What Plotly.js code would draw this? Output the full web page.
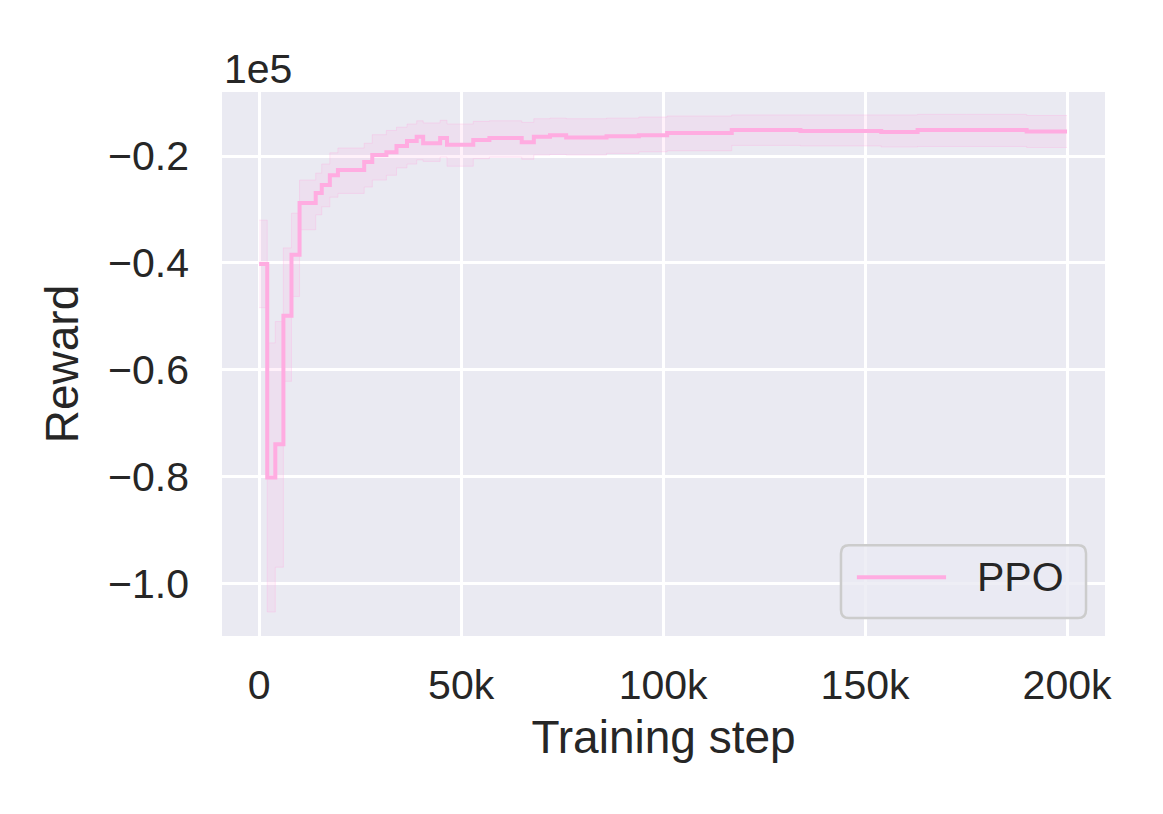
<!DOCTYPE html>
<html>
<head>
<meta charset="utf-8">
<script src="https://cdn.plot.ly/plotly-3.0.1.min.js"></script>
<style>
  html, body { margin: 0; padding: 0; background: white; }
  #plot { width: 1163px; height: 814px; }
</style>
</head>
<body>
<div id="plot"></div>
<script>
// --- Data ---
const steps = [0, 2000, 4000, 6000, 8000, 10000, 14000, 15500, 17500, 19500, 26000, 28000,
  31500, 34000, 36600, 39000, 40600, 44800, 46500, 53000, 57000, 65000, 68000, 72000,
  76000, 86000, 94000, 101000, 117000, 134000, 154000, 163000, 175000, 190000, 200000];

const rewardMean = [-40200, -80200, -74000, -49900, -38500, -28800, -26900, -25400, -23600,
  -22600, -21100, -19800, -19300, -18100, -17200, -16400, -17600, -16600, -17900, -17000,
  -16600, -17400, -16400, -16100, -16500, -16300, -16100, -15700, -15100, -15300, -15500,
  -15100, -15100, -15400, -15400];

const rewardUpper = [-32000, -55000, -51000, -37200, -30700, -24500, -23200, -21500, -19400,
  -18500, -17600, -16000, -15200, -14600, -14000, -13400, -13800, -13300, -14000, -13500,
  -13400, -13700, -13000, -12900, -13000, -12900, -12700, -12500, -12300, -12300, -12300,
  -12200, -12200, -12400, -12400];

const rewardLower = [-48400, -105400, -97000, -62200, -46300, -33800, -31000, -29500, -27700,
  -27000, -25800, -24500, -23600, -22200, -21500, -20700, -21000, -20200, -21900, -20500,
  -20200, -20600, -19800, -19700, -19800, -19500, -19200, -19000, -18000, -18100, -18300,
  -18200, -18200, -18400, -18400];

const xTickVals = [0, 50000, 100000, 150000, 200000];
const xTickText = ["0", "50k", "100k", "150k", "200k"];
const yTickVals = [-100000, -80000, -60000, -40000, -20000];
const yTickText = ["\u22121.0", "\u22120.8", "\u22120.6", "\u22120.4", "\u22120.2"];

const seriesName = "PPO";
const pink = "rgb(255,172,225)";
const ink = "#262626";
const font = "Liberation Sans, Arial, sans-serif";

// --- Traces ---
const upper = {
  x: steps, y: rewardUpper,
  mode: "lines",
  line: { color: "rgba(255,172,225,0.3)", width: 1, shape: "hv" },
  hoverinfo: "skip",
  showlegend: false
};

const lower = {
  x: steps, y: rewardLower,
  mode: "lines",
  fill: "tonexty",
  fillcolor: "rgba(255,172,225,0.17)",
  line: { color: "rgba(255,172,225,0.3)", width: 1, shape: "hv" },
  hoverinfo: "skip",
  showlegend: false
};

const mean = {
  x: steps, y: rewardMean,
  mode: "lines",
  name: seriesName,
  line: { color: pink, width: 4, shape: "hv" },
  showlegend: false
};

// legend box drawn by hand so it matches the rounded matplotlib frame
const lx0 = 0.701, lx1 = 0.9785, ly0 = 0.033, ly1 = 0.167, rx = 0.009, ry = 0.015;
const legendPath =
  `M${lx0 + rx},${ly0} L${lx1 - rx},${ly0} Q${lx1},${ly0} ${lx1},${ly0 + ry} ` +
  `L${lx1},${ly1 - ry} Q${lx1},${ly1} ${lx1 - rx},${ly1} ` +
  `L${lx0 + rx},${ly1} Q${lx0},${ly1} ${lx0},${ly1 - ry} ` +
  `L${lx0},${ly0 + ry} Q${lx0},${ly0} ${lx0 + rx},${ly0} Z`;

// --- Layout ---
const layout = {
  width: 1163,
  height: 814,
  margin: { l: 222, r: 58, t: 92, b: 178 },
  paper_bgcolor: "white",
  plot_bgcolor: "#eaeaf2",
  font: { family: font, color: ink, size: 41 },
  showlegend: false,
  xaxis: {
    range: [-9200, 209400],
    tickvals: xTickVals,
    ticktext: xTickText,
    showgrid: true,
    gridcolor: "white",
    gridwidth: 3,
    zeroline: false,
    showline: false,
    ticks: "",
    ticklabelstandoff: 21,
    tickfont: { size: 41, color: ink },
    title: { text: "Training step", font: { size: 46, color: ink }, standoff: 13 }
  },
  yaxis: {
    range: [-109900, -8000],
    tickvals: yTickVals,
    ticktext: yTickText,
    showgrid: true,
    gridcolor: "white",
    gridwidth: 3,
    zeroline: false,
    showline: false,
    ticks: "",
    ticklabelstandoff: 32,
    tickfont: { size: 41, color: ink },
    title: { text: "Reward", font: { size: 46, color: ink }, standoff: 14 }
  },
  shapes: [
    {
      type: "path", xref: "paper", yref: "paper",
      path: legendPath,
      fillcolor: "rgba(234,234,242,0.8)",
      line: { color: "#cccccc", width: 2.5 }
    },
    {
      type: "line", xref: "paper", yref: "paper",
      x0: 0.719, x1: 0.820, y0: 0.108, y1: 0.108,
      line: { color: pink, width: 4 }
    }
  ],
  annotations: [
    {
      text: "1e5", xref: "paper", yref: "paper",
      x: 0, y: 1, xanchor: "left", yanchor: "bottom",
      yshift: -2, showarrow: false,
      font: { size: 41, color: ink }
    },
    {
      text: seriesName, xref: "paper", yref: "paper",
      x: 0.853, y: 0.108, xanchor: "left", yanchor: "middle",
      showarrow: false,
      font: { size: 41, color: ink }
    }
  ]
};

Plotly.newPlot("plot", [upper, lower, mean], layout, { displayModeBar: false, staticPlot: true });
</script>
</body>
</html>
